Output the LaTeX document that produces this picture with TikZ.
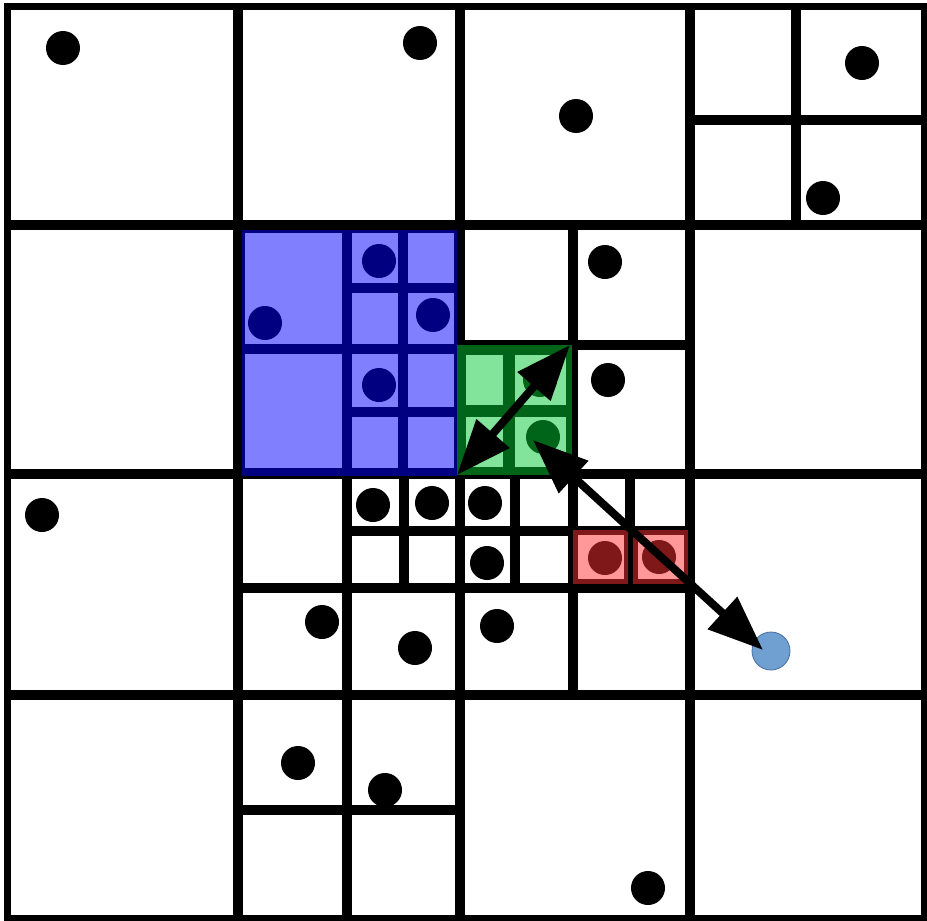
\documentclass[tikz,border=0pt]{standalone}
\usetikzlibrary{arrows.meta}
\definecolor{bluelt}{RGB}{128,128,255}
\definecolor{navyd}{RGB}{0,0,128}
\definecolor{greenlt}{RGB}{130,227,155}
\definecolor{greendk}{RGB}{0,100,25}
\definecolor{redlt}{RGB}{255,153,153}
\definecolor{reddk}{RGB}{127,24,24}
\definecolor{qfill}{RGB}{112,160,210}
\definecolor{qdraw}{RGB}{70,110,160}
\tikzset{
  gridline/.style={line width=10pt,black},
  borderline/.style={line width=7pt,black},
  pt/.style={fill=black},
  bigarrow/.style={line width=8pt,{Triangle[length=55pt,width=42pt]}-{Triangle[length=55pt,width=42pt]}}
}
\begin{document}
\begin{tikzpicture}[x=1pt,y=-1pt]
\useasboundingbox (0,0) rectangle (927,921);
\fill[white] (0,0) rectangle (927,921);
% major grid
\draw[gridline] (238,6) -- (238,918);
\draw[gridline] (460,6) -- (460,918);
\draw[gridline] (690,6) -- (690,918);
\draw[gridline] (7,225) -- (924,225);
\draw[gridline] (7,474) -- (924,474);
\draw[gridline] (7,695) -- (924,695);
% top-right cell
\draw[gridline] (796,6) -- (796,225);
\draw[gridline] (690,120) -- (924,120);
% cell (460-690, 225-474)
\draw[gridline] (573,225) -- (573,474);
\draw[gridline] (460,345) -- (690,345);
% cell (238-460, 474-695)
\draw[gridline] (347,474) -- (347,695);
\draw[gridline] (238,588) -- (460,588);
\draw[gridline] (404,474) -- (404,588);
\draw[gridline] (347,531) -- (460,531);
% cell (460-690, 474-695)
\draw[gridline] (573,474) -- (573,695);
\draw[gridline] (460,588) -- (690,588);
\draw[gridline] (515,474) -- (515,588);
\draw[gridline] (460,531) -- (573,531);
\draw[gridline] (630,474) -- (630,588);
\draw[gridline] (573,531) -- (690,531);
% cell (238-460, 695-918)
\draw[gridline] (347,695) -- (347,918);
\draw[gridline] (238,810) -- (460,810);
% outer border
\draw[borderline] (7,6) rectangle (924,918);
% blue region
\fill[navyd] (242,230) rectangle (457,476);
\fill[bluelt] (245,233) rectangle (342,344);
\fill[bluelt] (245,354) rectangle (342,468);
\foreach \xa/\xb in {352/398,408/454}{
  \foreach \ya/\yb in {233/283,293/344,354/407,417/468}{
    \fill[bluelt] (\xa,\ya) rectangle (\xb,\yb);
  }
}
\foreach \p in {(379,261),(265,323),(433,315),(379,385)}{
  \fill[navyd] \p circle (17);
}
% green region
\fill[greendk] (457,345) rectangle (572,475);
\foreach \xa/\xb in {466/503,515/566}{
  \foreach \ya/\yb in {355/405,417/467}{
    \fill[greenlt] (\xa,\ya) rectangle (\xb,\yb);
  }
}
\fill[greendk] (540,380) circle (17);
\fill[greendk] (543,437) circle (17);
% red cells
\fill[reddk] (573,530) rectangle (628,584);
\fill[reddk] (633,530) rectangle (688,584);
\fill[redlt] (578,535) rectangle (624,579);
\fill[redlt] (638,535) rectangle (684,579);
\fill[reddk] (605,558) circle (17);
\fill[reddk] (659,557) circle (17);
% black points
\foreach \p in {(63,48),(420,43),(576,116),(862,63),(823,198),(605,262),(608,380),
  (42,515),(373,505),(432,503),(485,503),(487,563),(322,622),(415,648),(497,626),
  (298,763),(385,790),(648,888)}{
  \fill[pt] \p circle (17);
}
% query point
\node[circle,fill=qfill,draw=qdraw,line width=0.8pt,minimum size=38pt,inner sep=0pt] (q) at (771,651) {};
% arrows
\coordinate (gsw) at (457,475);
\coordinate (gne) at (570,345);
\coordinate (gpt) at (533,440);
\coordinate (qtip) at (763,650);
\draw[bigarrow] (gsw) -- (gne);
\draw[bigarrow] (gpt) -- (qtip);
\end{tikzpicture}
\end{document}
